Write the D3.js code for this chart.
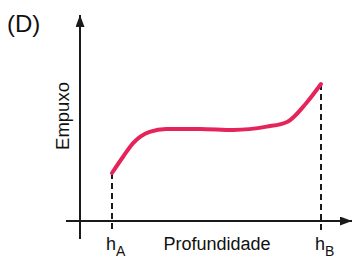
<!DOCTYPE html>
<html>
<head>
<meta charset="utf-8">
<script src="https://cdn.jsdelivr.net/npm/d3@7/dist/d3.min.js"></script>
<style>
  body { margin: 0; background: #fff; }
  text { font-family: "Liberation Sans", Arial, sans-serif; fill: #111; }
</style>
</head>
<body>
<svg width="352" height="257"></svg>
<script>
// depth (0 = hA, 1 = hB) and buoyancy values
var depth  = [0, 0.053, 0.10, 0.18, 0.26, 0.42, 0.58, 0.74, 0.84, 0.93, 1.0];
var empuxo = [23.3, 31.2, 37.7, 43.3, 44.7, 44.7, 44.2, 45.8, 48.2, 57.3, 66.5];
var xTicks = [{ pos: 0, base: "h", sub: "A" }, { pos: 1, base: "h", sub: "B" }];
var panelLabel = "(D)";
var xTitle = "Profundidade";
var yTitle = "Empuxo";

(function() {
    var svg = d3.select('svg');

    // hA -> 112px, hB -> 321px ; empuxo 0 -> axis at 221px
    var x = d3.scaleLinear().domain([0, 1]).range([112, 321]);
    var y = d3.scaleLinear().domain([0, 100]).range([221, 15]);

    var axisX0 = x(-0.153);   // y axis position
    var axisColor = '#1a1a1a';

    svg.append('defs').append('marker')
        .attr('id', 'arrow')
        .attr('viewBox', '0 0 10 10')
        .attr('refX', 10).attr('refY', 5)
        .attr('markerWidth', 12).attr('markerHeight', 9)
        .attr('markerUnits', 'userSpaceOnUse')
        .attr('orient', 'auto')
        .attr('preserveAspectRatio', 'none')
        .append('path')
        .attr('d', 'M0,0 L10,5 L0,10 Z')
        .style('fill', axisColor);

    // x axis
    svg.append('line')
        .attr('x1', 66).attr('y1', y(0))
        .attr('x2', 352).attr('y2', y(0))
        .attr('stroke', axisColor).attr('stroke-width', 2)
        .attr('marker-end', 'url(#arrow)');

    // y axis
    svg.append('line')
        .attr('x1', axisX0).attr('y1', 239)
        .attr('x2', axisX0).attr('y2', y(100))
        .attr('stroke', axisColor).attr('stroke-width', 2)
        .attr('marker-end', 'url(#arrow)');

    // dashed drop lines at hA and hB
    svg.selectAll('line.drop')
        .data([[0, empuxo[0]], [1, empuxo[empuxo.length - 1]]])
        .enter().append('line')
        .attr('class', 'drop')
        .attr('x1', function(d) { return x(d[0]); })
        .attr('x2', function(d) { return x(d[0]); })
        .attr('y1', function(d) { return y(d[1]); })
        .attr('y2', 232)
        .attr('stroke', axisColor).attr('stroke-width', 2)
        .attr('stroke-dasharray', '6,4');

    // curve
    var pts = depth.map(function(d, i) { return [d, empuxo[i]]; });
    var line = d3.line()
        .x(function(d) { return x(d[0]); })
        .y(function(d) { return y(d[1]); })
        .curve(d3.curveMonotoneX);

    svg.append('path')
        .datum(pts)
        .attr('d', line)
        .attr('fill', 'none')
        .attr('stroke', '#e4245a')
        .attr('stroke-width', 4)
        .attr('stroke-linecap', 'round');

    // tick labels hA / hB
    var tl = svg.selectAll('text.tick')
        .data(xTicks)
        .enter().append('text')
        .attr('class', 'tick')
        .attr('x', function(d) { return x(d.pos) - 6; })
        .attr('y', 250)
        .style('font-size', '18px');
    tl.append('tspan').text(function(d) { return d.base; });
    tl.append('tspan').attr('dy', 5.5).style('font-size', '14px')
        .text(function(d) { return d.sub; });

    svg.append('text')
        .attr('x', 217).attr('y', 250)
        .attr('text-anchor', 'middle')
        .style('font-size', '18px')
        .text(xTitle);

    svg.append('text')
        .attr('transform', 'translate(69,116) rotate(-90)')
        .attr('text-anchor', 'middle')
        .style('font-size', '18.5px')
        .text(yTitle);

    svg.append('text')
        .attr('x', 7).attr('y', 32)
        .style('font-size', '24px')
        .text(panelLabel);
})();
</script>
</body>
</html>
